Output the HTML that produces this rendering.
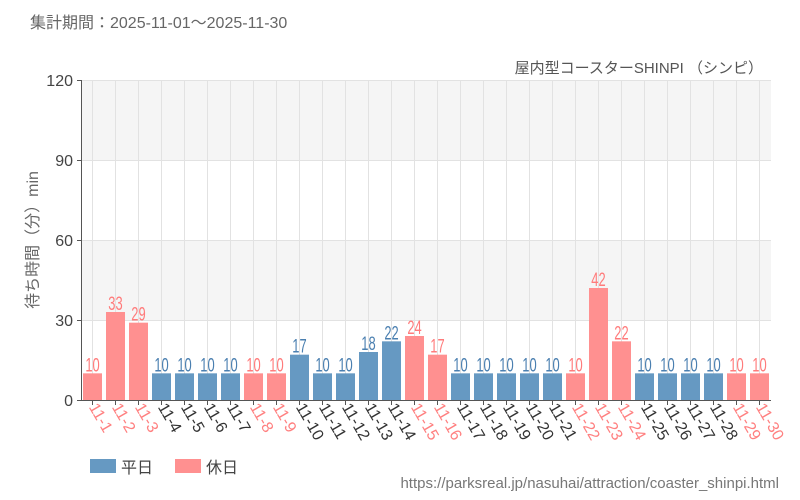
<!DOCTYPE html>
<html><head><meta charset="utf-8"><style>
body{margin:0;background:#fff;}
svg{display:block;font-family:"Liberation Sans","Noto Sans CJK JP",sans-serif;}
</style></head><body>
<svg width="800" height="500" xmlns="http://www.w3.org/2000/svg">
<text x="30" y="28" font-size="16" fill="#666">集計期間：2025-11-01～2025-11-30</text>
<text x="763" y="73" font-size="15" fill="#555" text-anchor="end">屋内型コースターSHINPI （シンピ）</text>
<rect x="81" y="80" width="690" height="80" fill="#f5f5f5"/>
<rect x="81" y="240" width="690" height="80" fill="#f5f5f5"/>
<g stroke="#e2e2e2" stroke-width="1">
<line x1="81" y1="80.5" x2="771" y2="80.5"/><line x1="81" y1="160.5" x2="771" y2="160.5"/>
<line x1="81" y1="240.5" x2="771" y2="240.5"/><line x1="81" y1="320.5" x2="771" y2="320.5"/>
</g>
<g id="g"></g>
<line x1="81.5" y1="80" x2="81.5" y2="400" stroke="#555"/>
<line x1="77" y1="400.5" x2="771" y2="400.5" stroke="#555"/>
<g font-size="16" fill="#444" text-anchor="end">
<text x="73" y="86">120</text><text x="73" y="166">90</text><text x="73" y="246">60</text><text x="73" y="326">30</text><text x="73" y="406">0</text>
</g>
<g stroke="#555"><line x1="77" y1="80.5" x2="81" y2="80.5"/><line x1="77" y1="160.5" x2="81" y2="160.5"/><line x1="77" y1="240.5" x2="81" y2="240.5"/><line x1="77" y1="320.5" x2="81" y2="320.5"/></g>
<text transform="translate(38,240) rotate(-90)" font-size="16" fill="#666" text-anchor="middle">待ち時間（分）min</text>
<rect x="90" y="459" width="26" height="14" fill="#6699c2"/>
<text x="121" y="473" font-size="16" fill="#444">平日</text>
<rect x="175" y="459" width="26" height="14" fill="#ff9090"/>
<text x="206" y="473" font-size="16" fill="#444">休日</text>
<text x="779" y="488" font-size="15" fill="#777" text-anchor="end">https://parksreal.jp/nasuhai/attraction/coaster_shinpi.html</text>
</svg>
<script>
var v=[10,33,29,10,10,10,10,10,10,17,10,10,18,22,24,17,10,10,10,10,10,10,42,22,10,10,10,10,10,10];
var hol=[1,2,3,8,9,15,16,22,23,24,29,30];
var g=document.getElementById('g'),s='';
for(var i=0;i<30;i++){
 var c=81+11.5+23*i,h=hol.indexOf(i+1)>=0,col=h?'#ff9090':'#6699c2',tc=h?'#ff7b7b':'#4a7fb0';
 var y=400-v[i]*80/30;
 s+='<line x1="'+c+'" y1="80" x2="'+c+'" y2="400" stroke="#e2e2e2"/>';
 s+='<rect x="'+(c-9.5)+'" y="'+y+'" width="19" height="'+(400-y)+'" fill="'+col+'"/>';
 s+='<text x="'+c+'" y="'+(y-2)+'" font-size="19" fill="'+tc+'" text-anchor="middle" transform="translate('+c+' 0) scale(0.68 1) translate('+(-c)+' 0)">'+v[i]+'</text>';
 s+='<line x1="'+c+'" y1="400" x2="'+c+'" y2="405" stroke="#555"/>';
 s+='<text transform="translate('+(c-4)+',407) rotate(60)" font-size="16" fill="'+(h?'#ff8080':'#333')+'">11-'+(i+1)+'</text>';
}
g.innerHTML=s;
</script>
</body></html>
